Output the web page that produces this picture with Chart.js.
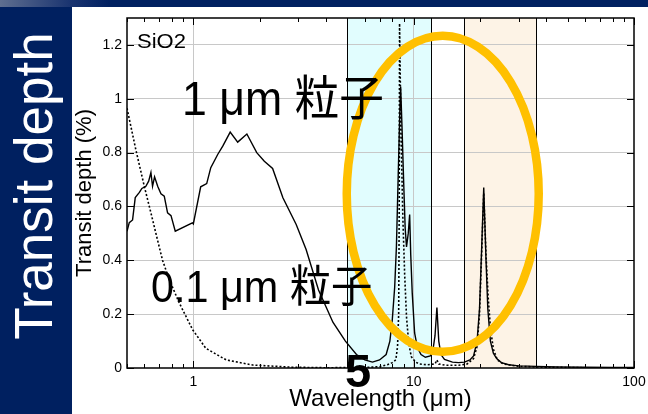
<!DOCTYPE html>
<html>
<head>
<meta charset="utf-8">
<title>SiO2 transit depth</title>
<script src="https://cdn.jsdelivr.net/npm/chart.js@4.4.1/dist/chart.umd.min.js"></script>
<style>
  html, body { margin: 0; padding: 0; background: #fff; }
  #wrap { position: relative; width: 648px; height: 414px; overflow: hidden; background: #fff; }
  #topbar { position: absolute; left: 0; top: 0; width: 648px; height: 7px;
    background: linear-gradient(to right, #5f6f90 0px, #1a3470 70px, #002060 110px); }
  #side { position: absolute; left: 0; top: 7px; width: 72px; height: 407px; background: #002060; }
  #sideTitle {
    position: absolute; left: 33px; top: 186px;
    transform: translate(-50%, -50%) rotate(-90deg);
    color: #fff; font: 53px "Liberation Sans", Arial, sans-serif; white-space: nowrap;
  }
  #chart { position: absolute; left: 0; top: 0; }
</style>
</head>
<body>
<div id="wrap">
  <div id="topbar"></div>
  <div id="side"></div>
  <div id="sideTitle">Transit depth</div>
  <canvas id="chart" width="648" height="414"></canvas>
</div>
<script>
// 1 um particles (solid line)
const wl1 = [0.5, 0.512, 0.53, 0.545, 0.569, 0.584, 0.609, 0.627, 0.642, 0.653, 0.667, 0.689, 0.713, 0.738,
  0.764, 0.792, 0.828, 0.99, 1.0, 1.08, 1.15, 1.2, 1.29, 1.36, 1.47, 1.59, 1.75, 1.94, 2.1, 2.29, 2.55, 2.93,
  3.25, 3.7, 4.3, 4.9, 5.5, 6.0, 6.5, 7.0, 7.5, 7.8, 8.0, 8.2, 8.35, 8.5, 8.65, 8.73, 8.85, 9.0, 9.15, 9.28,
  9.45, 9.59, 9.7, 9.85, 10.1, 10.4, 10.8, 11.3, 11.9, 12.2, 12.5, 12.75, 13.0, 13.3, 13.8, 15, 16, 17, 18,
  18.7, 19.4, 19.9, 20.3, 20.8, 21.3, 21.7, 22.3, 23, 23.8, 25, 27, 30, 36, 45, 60, 80, 100];
const depth1 = [0.508, 0.54, 0.55, 0.633, 0.652, 0.667, 0.675, 0.694, 0.726, 0.675, 0.71, 0.675, 0.647, 0.638,
  0.576, 0.566, 0.508, 0.539, 0.535, 0.673, 0.685, 0.744, 0.793, 0.824, 0.876, 0.839, 0.869, 0.80, 0.768, 0.741, 0.632, 0.533,
  0.44, 0.29, 0.17, 0.1, 0.05, 0.03, 0.022, 0.03, 0.05, 0.1, 0.18, 0.3, 0.45, 0.7, 0.95, 1.045, 0.9, 0.7, 0.52, 0.45,
  0.5, 0.57, 0.42, 0.28, 0.13, 0.075, 0.05, 0.04, 0.045, 0.06, 0.12, 0.225, 0.1, 0.05, 0.032, 0.022, 0.02, 0.022, 0.03,
  0.045, 0.1, 0.22, 0.42, 0.67, 0.4, 0.22, 0.1, 0.055, 0.035, 0.02, 0.012, 0.008, 0.006, 0.004, 0.003, 0.002, 0.002];

// 0.1 um particles (dotted line)
const wl2 = [0.5, 0.548, 0.599, 0.642, 0.7, 0.725, 0.778, 0.864, 0.993, 1.14, 1.41, 1.86, 2.8, 4, 6, 7, 7.6,
  8.0, 8.3, 8.45, 8.55, 8.6, 8.63, 8.75, 8.93, 9.1, 9.28, 9.5, 9.76, 10.2, 10.6, 11.5, 12.5, 12.75, 13, 14, 16,
  17.5, 18.7, 19.4, 19.9, 20.3, 20.8, 21.3, 21.8, 22.3, 23, 24, 25.5, 30, 40, 60, 100];
const depth2 = [0.965, 0.812, 0.675, 0.576, 0.45, 0.40, 0.328, 0.241, 0.142, 0.073, 0.03, 0.011, 0.003, 0.001, 0.002, 0.005, 0.012,
  0.02, 0.03, 0.08, 0.2, 0.6, 1.28, 0.9, 0.56, 0.35, 0.19, 0.09, 0.042, 0.022, 0.015, 0.012, 0.015, 0.03, 0.015, 0.01, 0.01,
  0.015, 0.035, 0.08, 0.2, 0.4, 0.65, 0.42, 0.26, 0.15, 0.07, 0.03, 0.015, 0.006, 0.003, 0.001, 0.0];

// axis ticks
const xTickValues = [0.5, 0.6, 0.7, 0.8, 0.9, 1, 2, 3, 4, 5, 6, 7, 8, 9, 10, 20, 30, 40, 50, 60, 70, 80, 90, 100];
const xTickLabels = [1, 10, 100];
const yTickValues = [0, 0.2, 0.4, 0.6, 0.8, 1, 1.2];

// highlighted wavelength bands (um)
const bandFrom = [5, 17];
const bandTo = [12, 36];
const bandColors = ['#e1fdfe', '#fdf3e6'];

const FONT = '"Liberation Sans", Arial, Helvetica, sans-serif';
const CJK = '"Liberation Sans", "Noto Sans CJK JP", sans-serif';

const toPoints = (xs, ys) => xs.map((x, i) => ({ x: x, y: ys[i] }));

const bands = {
  id: 'bands',
  beforeDraw(chart) {
    const { ctx, chartArea: a, scales: { x } } = chart;
    ctx.save();
    bandFrom.forEach((from, i) => {
      const x0 = x.getPixelForValue(from), x1 = x.getPixelForValue(bandTo[i]);
      ctx.fillStyle = bandColors[i];
      ctx.fillRect(x0, a.top, x1 - x0, a.bottom - a.top);
    });
    ctx.restore();
  },
  beforeDatasetsDraw(chart) {
    const { ctx, chartArea: a, scales: { x } } = chart;
    ctx.save();
    ctx.strokeStyle = '#000';
    ctx.lineWidth = 1;
    bandFrom.forEach((from, i) => {
      [from, bandTo[i]].forEach(v => {
        const px = Math.round(x.getPixelForValue(v)) + 0.5;
        ctx.beginPath();
        ctx.moveTo(px, a.top);
        ctx.lineTo(px, a.bottom);
        ctx.stroke();
      });
    });
    ctx.restore();
  }
};

// inward tick marks and box frame
const frame = {
  id: 'frame',
  afterDatasetsDraw(chart) {
    const { ctx, chartArea: a, scales: { x, y } } = chart;
    ctx.save();
    ctx.strokeStyle = '#000';
    ctx.lineWidth = 1;
    ctx.beginPath();
    xTickValues.forEach(v => {
      const px = Math.round(x.getPixelForValue(v)) + 0.5;
      const len = xTickLabels.includes(v) ? 7 : 4;
      ctx.moveTo(px, a.bottom); ctx.lineTo(px, a.bottom - len);
      ctx.moveTo(px, a.top); ctx.lineTo(px, a.top + len);
    });
    yTickValues.forEach(v => {
      const py = Math.round(y.getPixelForValue(v)) + 0.5;
      ctx.moveTo(a.left, py); ctx.lineTo(a.left + 7, py);
      ctx.moveTo(a.right, py); ctx.lineTo(a.right - 7, py);
    });
    ctx.stroke();
    ctx.lineWidth = 1.5;
    ctx.strokeRect(a.left, a.top, a.right - a.left, a.bottom - a.top);
    ctx.restore();
  }
};

// squeezed label text, drawn from its left edge
function label(ctx, text, font, x, y, sx) {
  ctx.save();
  ctx.font = font;
  ctx.translate(x, y);
  ctx.scale(sx, 1);
  ctx.fillText(text, 0, 0);
  ctx.restore();
}

// highlight ellipse and labels
const notes = {
  id: 'notes',
  afterDraw(chart) {
    const { ctx, scales: { x, y } } = chart;
    ctx.save();
    ctx.strokeStyle = '#ffc000';
    ctx.lineWidth = 8.5;
    ctx.beginPath();
    ctx.ellipse(x.getPixelForValue(13.55), y.getPixelForValue(0.647), 96, 158, 0, 0, Math.PI * 2);
    ctx.stroke();

    ctx.fillStyle = '#000';
    ctx.textBaseline = 'alphabetic';
    label(ctx, 'SiO2', '20px ' + FONT, 137, 48, 1.1);
    label(ctx, '1 μm 粒子', '48px ' + CJK, 182, 115, 0.93);
    label(ctx, '0.1 μm 粒子', '44px ' + CJK, 151, 302, 0.94);
    label(ctx, '5', 'bold 47px ' + FONT, 345, 387, 1);
    ctx.restore();
  }
};

new Chart(document.getElementById('chart'), {
  type: 'line',
  data: {
    datasets: [
      {
        label: '1 μm',
        data: toPoints(wl1, depth1),
        borderColor: '#000',
        borderWidth: 1.4,
        pointRadius: 0,
        tension: 0
      },
      {
        label: '0.1 μm',
        data: toPoints(wl2, depth2),
        borderColor: '#000',
        borderWidth: 1.6,
        borderDash: [2, 2],
        pointRadius: 0,
        tension: 0
      }
    ]
  },
  options: {
    responsive: false,
    animation: false,
    devicePixelRatio: 1,
    layout: { padding: { left: 72, top: 18, right: 14, bottom: 0 } },
    plugins: { legend: { display: false }, tooltip: { enabled: false } },
    scales: {
      x: {
        type: 'logarithmic',
        min: 0.5,
        max: 100,
        afterBuildTicks(scale) {
          scale.ticks = xTickValues.map(v => ({ value: v }));
        },
        afterFit(scale) {
          scale.height = 46;
          scale.paddingLeft = 0;
          scale.paddingRight = 0;
        },
        ticks: {
          autoSkip: false,
          maxRotation: 0,
          padding: 6,
          color: '#000',
          font: { family: FONT, size: 14 },
          callback: v => (xTickLabels.includes(v) ? String(v) : '')
        },
        grid: {
          drawTicks: false,
          color: c => (c.tick && (c.tick.value === 1 || c.tick.value === 10) ? '#c8c8c8' : 'rgba(0,0,0,0)'),
          lineWidth: 1
        },
        border: { display: false },
        title: {
          display: true,
          text: 'Wavelength (μm)',
          color: '#000',
          font: { family: FONT, size: 24 },
          padding: 0
        }
      },
      y: {
        min: 0,
        max: 1.3,
        afterBuildTicks(scale) {
          scale.ticks = yTickValues.map(v => ({ value: v }));
        },
        afterFit(scale) {
          scale.width = 55;
          scale.paddingTop = 0;
          scale.paddingBottom = 0;
        },
        ticks: {
          padding: 5,
          color: '#000',
          font: { family: FONT, size: 14 },
          callback: v => String(v)
        },
        grid: {
          drawTicks: false,
          color: c => (c.tick && c.tick.value > 0 ? '#c8c8c8' : 'rgba(0,0,0,0)'),
          lineWidth: 1
        },
        border: { display: false },
        title: {
          display: true,
          text: 'Transit depth (%)',
          color: '#000',
          font: { family: FONT, size: 22 },
          padding: 0
        }
      }
    }
  },
  plugins: [bands, frame, notes]
});
</script>
</body>
</html>
